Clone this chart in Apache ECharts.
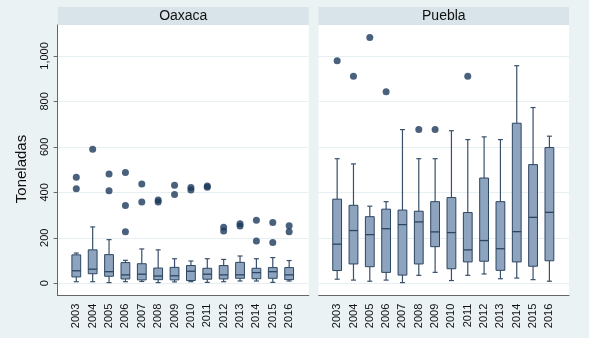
<!DOCTYPE html>
<html><head><meta charset="utf-8">
<script src="https://cdn.jsdelivr.net/npm/echarts@6/dist/echarts.min.js"></script>
<style>html,body{margin:0;padding:0;background:#eaf2f3}#c{width:589px;height:338px}</style>
</head><body><div id="c"></div>
<script>
const years = [2003,2004,2005,2006,2007,2008,2009,2010,2011,2012,2013,2014,2015,2016];
const yTicks = [0,200,400,600,800,1000];
const panelNames = ['Oaxaca','Puebla'];
// [min, Q1, median, Q3, max]
const oaxacaBox = [
  [7,28,55,125,133],[7,42,62,147,248],[3,31,51,126,192],[7,19,37,91,101],
  [8,15,40,86,151],[3,16,32,67,147],[6,15,33,70,108],[7,12,53,78,98],
  [4,18,40,66,108],[7,19,37,78,105],[10,22,37,92,120],[10,20,47,66,108],
  [4,22,51,69,113],[10,16,37,69,100]
];
const oaxacaOutliers = [
  [2003,466],[2003,416],[2004,590],[2005,481],[2005,407],[2006,487],[2006,342],[2006,227],
  [2007,437],[2007,358],[2008,366],[2008,358],[2009,431],[2009,390],[2010,421],[2010,410],
  [2011,428],[2011,422],[2012,246],[2012,230],[2013,262],[2013,252],[2014,277],[2014,186],
  [2015,267],[2015,179],[2016,253],[2016,227]
];
const pueblaBox = [
  [18,56,172,370,548],[14,85,232,343,525],[9,73,214,293,339],[14,48,240,326,359],
  [3,36,258,322,676],[35,85,270,317,548],[48,161,226,359,548],[12,64,223,377,671],
  [35,94,147,311,632],[41,97,188,463,644],[20,57,152,359,632],[23,94,227,704,957],
  [16,75,290,522,773],[9,99,312,597,647]
];
const pueblaOutliers = [
  [2003,979],[2004,911],[2005,1081],[2006,842],[2008,676],[2009,676],[2011,911]
];

const FONT = 'Liberation Sans, Arial, sans-serif';
const BOX_FILL = '#8ea4be', BOX_LINE = '#2c4560', WHISK = '#3a506a', DOT = '#1b3a5c';

function renderBox(params, api){
  const x = api.value(0);
  const p = v => api.coord([x, v]);
  const pMin = p(api.value(1)), pQ1 = p(api.value(2)), pMed = p(api.value(3)),
        pQ3 = p(api.value(4)), pMax = p(api.value(5));
  const cx = pMin[0], hw = 4.4, cw = 2.5;
  const ls = {stroke: WHISK, lineWidth: 1.2};
  return {type:'group', children:[
    {type:'line', shape:{x1:cx,y1:pQ3[1],x2:cx,y2:pMax[1]}, style:ls},
    {type:'line', shape:{x1:cx,y1:pMin[1],x2:cx,y2:pQ1[1]}, style:ls},
    {type:'line', shape:{x1:cx-cw,y1:pMax[1],x2:cx+cw,y2:pMax[1]}, style:ls},
    {type:'line', shape:{x1:cx-cw,y1:pMin[1],x2:cx+cw,y2:pMin[1]}, style:ls},
    {type:'rect', shape:{x:cx-hw,y:pQ3[1],width:2*hw,height:pQ1[1]-pQ3[1]},
      style:{fill:BOX_FILL,stroke:BOX_LINE,lineWidth:1}},
    {type:'line', shape:{x1:cx-hw,y1:pMed[1],x2:cx+hw,y2:pMed[1]}, style:{stroke:BOX_LINE,lineWidth:1.3}}
  ]};
}

const XMIN = 2001.864, XMAX = 2017.2, YMIN = -54.6, YMAX = 1136;
const grids = [
  {left:57.7, right:280.2, top:25, bottom:42.3, show:true, backgroundColor:'#ffffff', borderWidth:0},
  {left:318.6, right:20, top:25, bottom:42.3, show:true, backgroundColor:'#ffffff', borderWidth:0}
];
const xAxes = [0,1].map(i => ({
  type:'value', gridIndex:i, min:XMIN, max:XMAX,
  axisLine:{show:true, onZero:false, lineStyle:{color:'#666', width:1}},
  axisTick:{show:false},
  splitLine:{show:false},
  axisLabel:{customValues:years, rotate:90, margin:8, fontSize:11, color:'#111', fontFamily:FONT,
    formatter: v => String(v)}
}));
const yAxes = [0,1].map(i => ({
  type:'value', gridIndex:i, min:YMIN, max:YMAX,
  axisLine:{show:i===0, lineStyle:{color:'#666', width:1}},
  axisTick:{show:i===0, customValues:yTicks, length:4, lineStyle:{color:'#666'}},
  splitLine:{show:true, customValues:yTicks, lineStyle:{color:'#e6eff1', width:1}},
  axisLabel:{show:i===0, customValues:yTicks, rotate:90, margin:7, fontSize:11, color:'#111', fontFamily:FONT,
    formatter: v => v.toLocaleString('en-US')}
}));

const boxSets = [oaxacaBox, pueblaBox];
const outSets = [oaxacaOutliers, pueblaOutliers];
const series = [];
[0,1].forEach(i => {
  series.push({type:'custom', xAxisIndex:i, yAxisIndex:i, renderItem:renderBox,
    encode:{x:0, y:[1,2,3,4,5]},
    data: years.map((yr,k) => [yr].concat(boxSets[i][k]))});
  series.push({type:'scatter', xAxisIndex:i, yAxisIndex:i, symbol:'circle', symbolSize:7,
    itemStyle:{color:DOT}, data: outSets[i]});
});

const headers = [[57.7,251.1],[318.6,250.4]];
const graphic = [];
headers.forEach((h,i) => {
  graphic.push({type:'rect', left:h[0], top:7, shape:{width:h[1], height:18}, style:{fill:'#d9e3ea'}});
  graphic.push({type:'text', x:h[0]+h[1]/2, y:16, style:{text:panelNames[i], fontSize:14, fontFamily:FONT,
    fill:'#111', align:'center', verticalAlign:'middle'}});
});
graphic.push({type:'text', x:22, y:169, rotation:Math.PI/2, style:{text:'Toneladas', fontSize:15, fontFamily:FONT,
  fill:'#111', align:'center', verticalAlign:'middle'}});

const chart = echarts.init(document.getElementById('c'));
chart.setOption({
  animation:false,
  backgroundColor:'#eaf2f3',
  grid:grids, xAxis:xAxes, yAxis:yAxes, series, graphic
});
</script></body></html>
